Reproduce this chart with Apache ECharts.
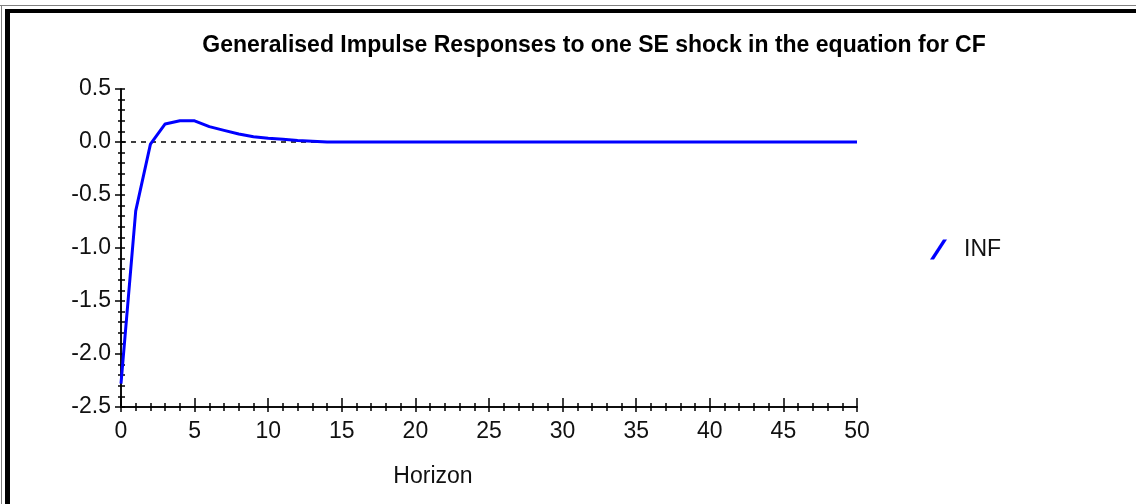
<!DOCTYPE html>
<html>
<head>
<meta charset="utf-8">
<script src="https://cdn.jsdelivr.net/npm/echarts@6/dist/echarts.min.js"></script>
<style>
  html, body { margin: 0; padding: 0; background: #fff; }
  #chart { width: 1136px; height: 504px; }
</style>
</head>
<body>
<div id="chart"></div>
<script>
// horizons 0..50
var horizons = [];
for (var h = 0; h <= 50; h++) horizons.push(h);

// response of INF (0 from h=14 on)
var infResponse = [
  -2.28, -0.65, -0.02, 0.17, 0.20, 0.20, 0.145, 0.11, 0.075, 0.05,
  0.035, 0.025, 0.015, 0.008, 0, 0, 0, 0, 0, 0,
  0, 0, 0, 0, 0, 0, 0, 0, 0, 0,
  0, 0, 0, 0, 0, 0, 0, 0, 0, 0,
  0, 0, 0, 0, 0, 0, 0, 0, 0, 0,
  0
];

var titleText = "Generalised Impulse Responses to one SE shock in the equation for CF";
var seriesName = "INF";

var font = "Liberation Sans";

var chart = echarts.init(document.getElementById("chart"));

// two copies of each axis: one with ticks outside + labels, one with ticks inside,
// so the ticks cross the axis line like in the original
function xAx(inside) {
  return {
    type: "value",
    position: "bottom",
    min: 0,
    max: 50,
    interval: 5,
    axisLine: { show: true, onZero: false, lineStyle: { color: "#000", width: 1.5 } },
    axisTick: { show: true, inside: inside, length: inside ? 9 : 5, lineStyle: { color: "#000", width: 1.5 } },
    minorTick: { show: true, splitNumber: 5, length: 4, lineStyle: { color: "#000", width: 1.5 } },
    axisLabel: inside ? { show: false } : {
      show: true, color: "#111", fontFamily: font, fontSize: 23, margin: 13
    },
    splitLine: { show: false },
    name: inside ? "" : "Horizon",
    nameLocation: "middle",
    nameGap: 58,
    nameTextStyle: { color: "#111", fontFamily: font, fontSize: 23, padding: [0, 112, 0, 0] }
  };
}

function yAx(inside) {
  return {
    type: "value",
    position: "left",
    min: -2.5,
    max: 0.5,
    interval: 0.5,
    axisLine: { show: true, onZero: false, lineStyle: { color: "#000", width: 1.5 } },
    axisTick: { show: true, inside: inside, length: inside ? 4 : 6, lineStyle: { color: "#000", width: 1.5 } },
    minorTick: { show: true, splitNumber: 5, length: inside ? 4 : 3, lineStyle: { color: "#000", width: 1.5 } },
    axisLabel: inside ? { show: false } : {
      show: true, color: "#111", fontFamily: font, fontSize: 23, margin: 10,
      formatter: function (v) { return v.toFixed(1); }
    },
    splitLine: { show: false }
  };
}

var option = {
  animation: false,
  backgroundColor: "#fff",
  title: {
    text: titleText,
    left: 589,
    textAlign: "center",
    top: 29,
    textStyle: { fontFamily: font, fontWeight: "bold", fontSize: 23, color: "#000" }
  },
  legend: {
    data: [seriesName],
    orient: "vertical",
    left: 925,
    top: 233,
    itemWidth: 17,
    itemHeight: 20,
    itemGap: 10,
    icon: "path://M0,20 L4,20 L17,0 L13,0 Z",
    textStyle: { fontFamily: font, fontSize: 23, color: "#111", padding: [0, 0, 0, 12] }
  },
  grid: { left: 121, right: 279, top: 89, bottom: 97, containLabel: false },
  xAxis: [xAx(false), xAx(true)],
  yAxis: [yAx(false), yAx(true)],
  graphic: [
    // frame remains of the original window (top + left edges)
    { type: "rect", shape: { x: 0, y: 5, width: 1136, height: 1 }, style: { fill: "#808080" } },
    { type: "rect", shape: { x: 5, y: 9, width: 1131, height: 4 }, style: { fill: "#000" } },
    { type: "rect", shape: { x: 1, y: 5, width: 1, height: 499 }, style: { fill: "#808080" } },
    { type: "rect", shape: { x: 5, y: 9, width: 5, height: 495 }, style: { fill: "#000" } }
  ],
  series: [
    {
      name: seriesName,
      type: "line",
      xAxisIndex: 0,
      yAxisIndex: 0,
      data: horizons.map(function (h, i) { return [h, infResponse[i]]; }),
      showSymbol: false,
      color: "#0000ff",
      lineStyle: { color: "#0000ff", width: 3 },
      z: 3,
      markLine: {
        silent: true,
        symbol: ["none", "none"],
        label: { show: false },
        lineStyle: { color: "#000", type: [5, 5], width: 1.5 },
        data: [{ yAxis: 0 }],
        z: 2
      }
    }
  ]
};

chart.setOption(option);
</script>
</body>
</html>
